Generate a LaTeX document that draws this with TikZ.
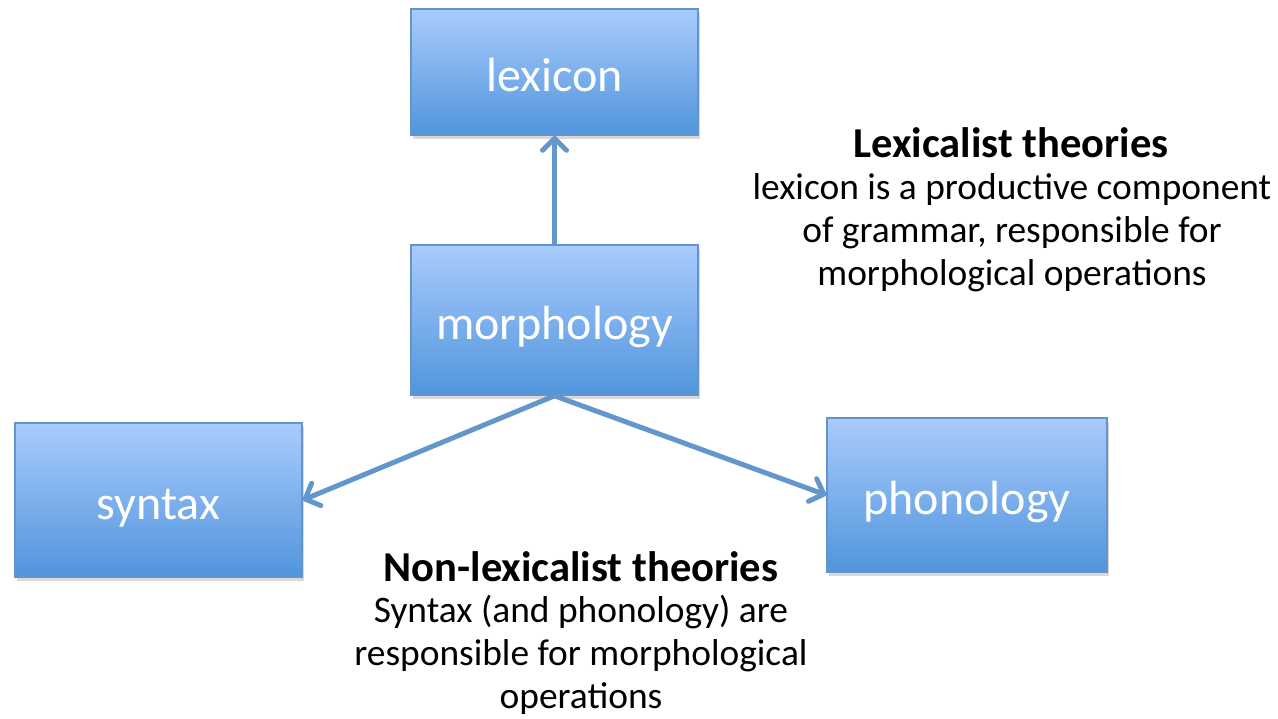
\documentclass[tikz,border=0pt]{standalone}
\usepackage{fontspec}
\setmainfont{Carlito}
\usepackage{tikz}
\usetikzlibrary{arrows.meta,shadows}
\usepackage{xcolor}
\definecolor{boxtop}{RGB}{169,203,253}
\definecolor{boxbot}{RGB}{81,149,220}
\definecolor{boxline}{RGB}{100,148,204}
\definecolor{arrowblue}{RGB}{99,151,204}

\begin{document}
\begin{tikzpicture}[x=0.5pt, y=-0.5pt,
  levelbox/.style={rectangle, draw=boxline, line width=0.8pt,
    top color=boxtop, bottom color=boxbot, text=white,
    font=\fontsize{24}{28}\selectfont, inner sep=0pt,
    text height=25pt, text depth=6pt,
    drop shadow={shadow xshift=1pt, shadow yshift=-2pt, opacity=0.3}},
  link/.style={draw=arrowblue, line width=2.5pt,
    -{Straight Barb[length=6pt, width=12pt, round]}},
  theoryhead/.style={font=\fontsize{21.3}{25}\selectfont\bfseries},
  theory/.style={align=center, font=\fontsize{18.7}{21.5}\selectfont}]
\useasboundingbox (0,0) rectangle (1278,718);
\node[levelbox, minimum width=143.5pt, minimum height=63pt] (lexicon) at (554.5,72) {lexicon};
\node[levelbox, minimum width=143.5pt, minimum height=75pt] (morph) at (554.5,320) {morphology};
\node[levelbox, minimum width=143.5pt, minimum height=77pt] (syntax) at (158.5,500) {syntax};
\node[levelbox, minimum width=140pt, minimum height=77pt] (phon) at (967,495) {phonology};
\draw[link] (morph.north) -- (lexicon.south);
\draw[link] (morph.south) -- (syntax.east);
\draw[link] (morph.south) -- (phon.west);
% lexicalist view
\node[theoryhead] (lexhead) at (1011,143) {Lexicalist theories};
\node[theory] (lexbody) at (1012,233) {lexicon is a productive component\\
  of grammar, responsible for\\
  morphological operations};
% non-lexicalist view
\node[theoryhead] (nonlexhead) at (581,567) {Non-lexicalist theories};
\node[theory] (nonlexbody) at (581,655) {Syntax (and phonology) are\\
  responsible for morphological\\
  operations};
\end{tikzpicture}
\end{document}
